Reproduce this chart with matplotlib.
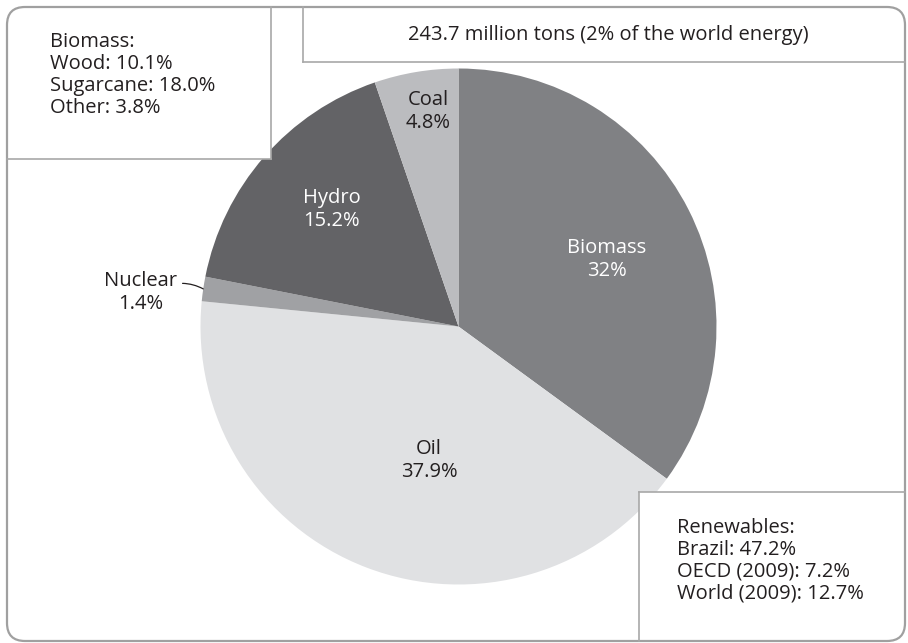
import numpy as np
import matplotlib
matplotlib.use("Agg")
import matplotlib.pyplot as plt
from matplotlib.patches import FancyBboxPatch, Rectangle

plt.rcParams['font.family'] = ['Open Sans', 'DejaVu Sans']

# ---- data ----
sources = ["Biomass", "Oil", "Nuclear", "Hydro", "Coal"]
shares = [32.0, 37.9, 1.4, 15.2, 4.8]
share_labels = ["32%", "37.9%", "1.4%", "15.2%", "4.8%"]
colors = ["#808184", "#e0e1e3", "#a0a1a4", "#636366", "#bbbcbf"]
label_colors = ["white", "#231f20", "#231f20", "white", "#231f20"]

title_text = "243.7 million tons (2% of the world energy)"
biomass_lines = ["Biomass:", "Wood: 10.1%", "Sugarcane: 18.0%", "Other: 3.8%"]
renew_lines = ["Renewables:", "Brazil: 47.2%", "OECD (2009): 7.2%", "World (2009): 12.7%"]

W, H = 908, 643
fig = plt.figure(figsize=(W / 100, H / 100), dpi=100)
fig.patch.set_facecolor("white")

# ---- pie ----
cx, cy, r = 458.5, 326.5, 258
pax = fig.add_axes([(cx - r) / W, (H - cy - r) / H, 2 * r / W, 2 * r / H])
wedges, _ = pax.pie(shares, colors=colors, startangle=90, counterclock=False,
                    wedgeprops=dict(linewidth=0))
pax.set_xlim(-1, 1)
pax.set_ylim(-1, 1)
pax.set_aspect("equal")
pax.axis("off")

# label placement: radial factor and angle offset per wedge (style)
place = {"Biomass": (0.63, -2.5), "Oil": (0.53, 8.5), "Hydro": (0.67, -1.7),
         "Coal": (0.84, -1.4)}
FS = 14.5
for w, name, lab, tc in zip(wedges, sources, share_labels, label_colors):
    if name in place:
        f, off = place[name]
        ang = np.deg2rad((w.theta1 + w.theta2) / 2 + off)
        pax.text(f * np.cos(ang), f * np.sin(ang), f"{name}\n{lab}",
                 ha="center", va="center", color=tc, fontsize=FS,
                 linespacing=1.2)
    else:
        # Nuclear: outside label with leader line
        ang = np.deg2rad((w.theta1 + w.theta2) / 2)
        ex, ey = np.cos(ang), np.sin(ang)
        tx, ty = (177 - cx) / r, -(293 - cy) / r
        pax.annotate(f"{name}\n{lab}", xy=(ex, ey), xytext=(tx, ty),
                     ha="right", va="center", multialignment="center",
                     color=tc, fontsize=FS,
                     linespacing=1.2, annotation_clip=False,
                     arrowprops=dict(arrowstyle="-", color="#231f20", lw=0.9,
                                     shrinkA=2, shrinkB=0,
                                     relpos=(1.0, 0.72),
                                     connectionstyle="arc3,rad=-0.15"))

# ---- overlay for frame, boxes and text (pixel coordinates) ----
ov = fig.add_axes([0, 0, 1, 1], zorder=5)
ov.set_xlim(0, W)
ov.set_ylim(H, 0)
ov.axis("off")
ov.patch.set_visible(False)

lc = "#a8a8a8"
# white fills for boxes
ov.add_patch(Rectangle((7, 7), 264, 152, facecolor="white", edgecolor="none"))
ov.add_patch(Rectangle((303, 7), 602, 55, facecolor="white", edgecolor="none"))
ov.add_patch(Rectangle((639, 492), 266, 149, facecolor="white", edgecolor="none"))
# box lines
ov.plot([271, 271], [7, 159], color=lc, lw=1.2)
ov.plot([7, 271], [159, 159], color=lc, lw=1.2)
ov.plot([303, 303], [7, 62], color=lc, lw=1.2)
ov.plot([303, 905], [62, 62], color=lc, lw=1.2)
ov.plot([639, 639], [492, 641], color=lc, lw=1.2)
ov.plot([639, 905], [492, 492], color=lc, lw=1.2)
# outer rounded frame
ov.add_patch(FancyBboxPatch((7, 7), 898, 634,
                            boxstyle="round,pad=0,rounding_size=18",
                            facecolor="none", edgecolor="#a0a0a0", lw=1.6))

tcol = "#231f20"
ov.text(608, 35, title_text, ha="center", va="center", fontsize=FS, color=tcol)
for i, line in enumerate(biomass_lines):
    ov.text(50, 46.7 + 22.2 * i, line, ha="left", va="baseline",
            fontsize=FS, color=tcol)
for i, line in enumerate(renew_lines):
    ov.text(677, 532.7 + 21.9 * i, line, ha="left", va="baseline",
            fontsize=FS, color=tcol)

fig.savefig("out.png", dpi=100, facecolor="white")
